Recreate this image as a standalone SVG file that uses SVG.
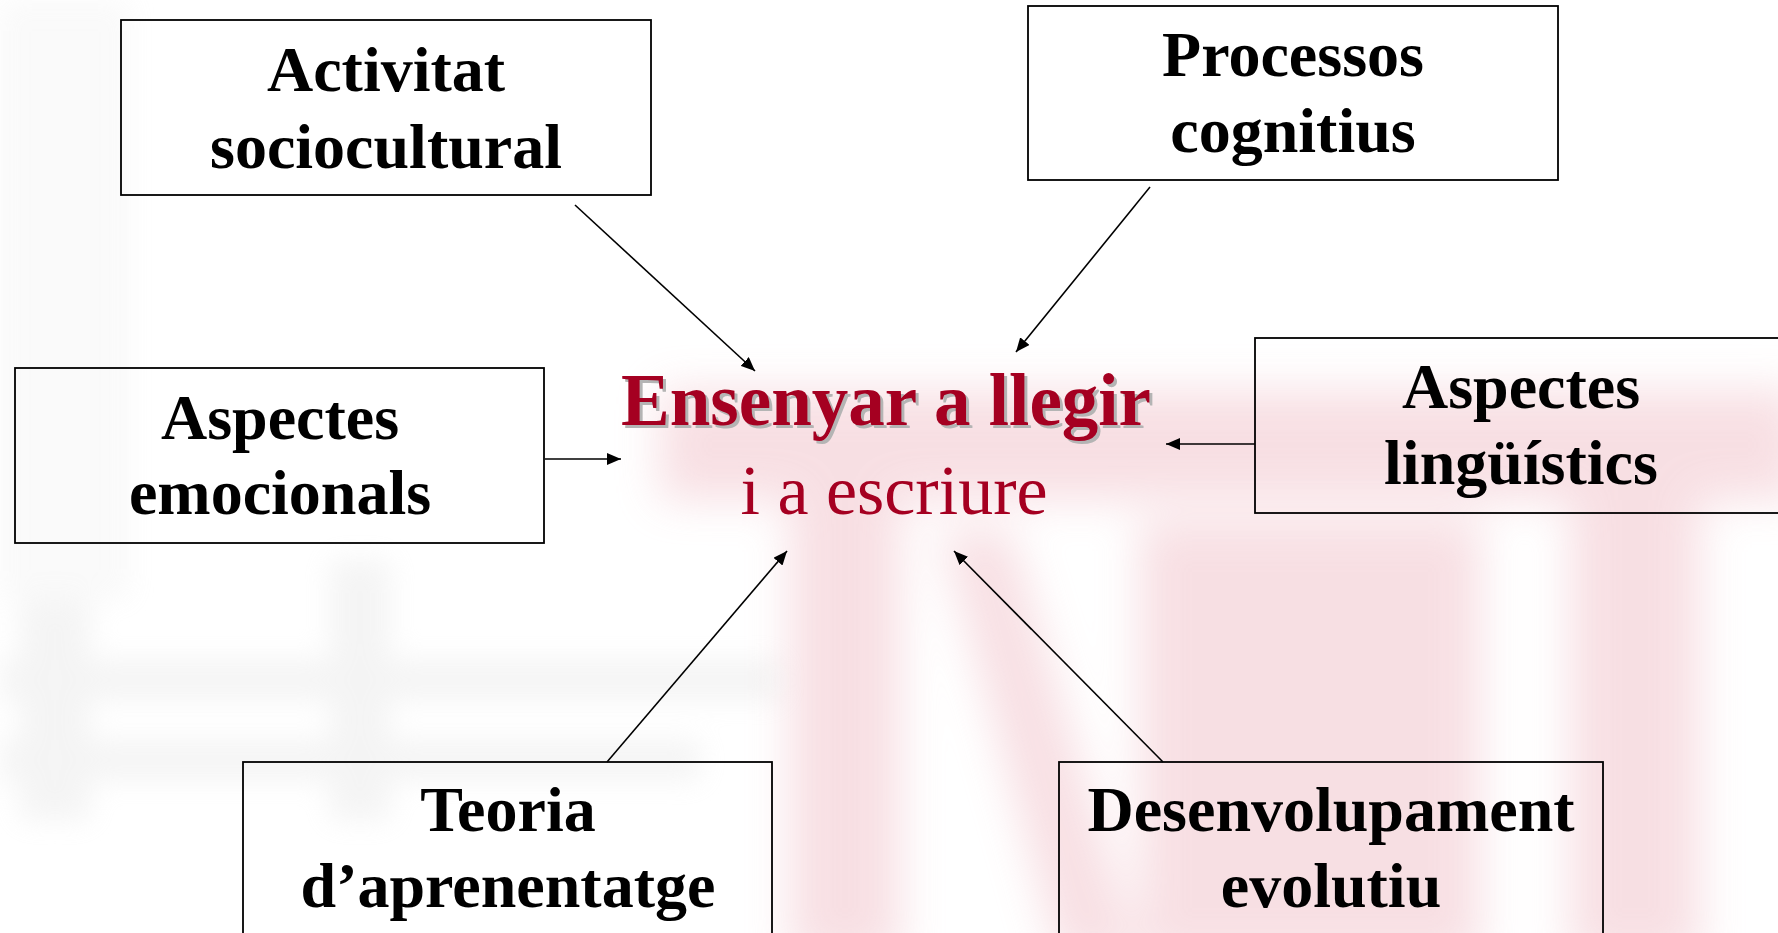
<svg xmlns="http://www.w3.org/2000/svg" width="1778" height="933" viewBox="0 0 1778 933">
<style>
.box{fill:none;stroke:#000;stroke-width:1.8}
.lbl{font-family:"Liberation Serif","Times New Roman",serif;font-weight:bold;font-size:64px;fill:#000;text-anchor:middle}
.conn{stroke:#000;stroke-width:1.6;fill:none;marker-end:url(#arr)}
.title{font-family:"Liberation Serif","Times New Roman",serif;font-weight:bold;font-size:73px;fill:#A50021;text-anchor:middle}
.shadow{fill:#b4b4b4}
.sub{font-family:"Liberation Serif","Times New Roman",serif;font-size:70px;fill:#A50021;text-anchor:middle}
</style>
<defs>
<marker id="arr" viewBox="0 0 14 12" refX="14" refY="6" markerWidth="14" markerHeight="12" markerUnits="userSpaceOnUse" orient="auto">
<path d="M0,0 L14,6 L0,12 Z" fill="#000"/>
</marker>
<filter id="blur" x="-30%" y="-30%" width="160%" height="160%"><feGaussianBlur stdDeviation="22"/></filter>
<filter id="blur2" x="-30%" y="-30%" width="160%" height="160%"><feGaussianBlur stdDeviation="14"/></filter>
</defs>
<rect x="0" y="0" width="1778" height="933" fill="#fff"/>
<g id="background">
<g filter="url(#blur)" fill="#efb9c2" opacity="0.45">
<rect x="660" y="390" width="1140" height="110"/>
<rect x="790" y="480" width="110" height="480"/>
<polygon points="940,530 1010,530 1140,960 1060,960"/>
<rect x="1140" y="520" width="340" height="440"/>
<rect x="1570" y="470" width="130" height="490"/>
</g>
<g filter="url(#blur2)" fill="#dcdcdc" opacity="0.3">
<rect x="0" y="660" width="780" height="40"/>
<rect x="0" y="740" width="700" height="40"/>
<rect x="20" y="600" width="70" height="220"/>
<rect x="330" y="560" width="60" height="260"/>
<rect x="0" y="0" width="130" height="600" opacity="0.5"/>
</g>
</g>
<g id="connectors">
<line class="conn" x1="575" y1="205" x2="755" y2="371"/>
<line class="conn" x1="1150" y1="187" x2="1016" y2="352"/>
<line class="conn" x1="545" y1="459" x2="621" y2="459"/>
<line class="conn" x1="1255" y1="444" x2="1166" y2="444"/>
<line class="conn" x1="607" y1="762" x2="787" y2="551"/>
<line class="conn" x1="1163" y1="762" x2="954" y2="551"/>
</g>
<g id="center">
<text class="title shadow" x="889" y="428">Ensenyar a llegir</text>
<text class="title" x="886" y="425">Ensenyar a llegir</text>
<text class="sub" x="894" y="514">i a escriure</text>
</g>
<g id="node-activitat">
<rect class="box" x="121" y="20" width="530" height="175"/>
<text class="lbl" x="386" y="91">Activitat</text>
<text class="lbl" x="386" y="168">sociocultural</text>
</g>
<g id="node-processos">
<rect class="box" x="1028" y="6" width="530" height="174"/>
<text class="lbl" x="1293" y="76">Processos</text>
<text class="lbl" x="1293" y="152">cognitius</text>
</g>
<g id="node-emocionals">
<rect class="box" x="15" y="368" width="529" height="175"/>
<text class="lbl" x="280" y="439">Aspectes</text>
<text class="lbl" x="280" y="514">emocionals</text>
</g>
<g id="node-linguistics">
<rect class="box" x="1255" y="338" width="530" height="175"/>
<text class="lbl" x="1521" y="408">Aspectes</text>
<text class="lbl" x="1521" y="484">lingüístics</text>
</g>
<g id="node-teoria">
<rect class="box" x="243" y="762" width="529" height="200"/>
<text class="lbl" x="508" y="831">Teoria</text>
<text class="lbl" x="508" y="907">d’aprenentatge</text>
</g>
<g id="node-desenvolupament">
<rect class="box" x="1059" y="762" width="544" height="200"/>
<text class="lbl" x="1331" y="831">Desenvolupament</text>
<text class="lbl" x="1331" y="907">evolutiu</text>
</g>
</svg>
